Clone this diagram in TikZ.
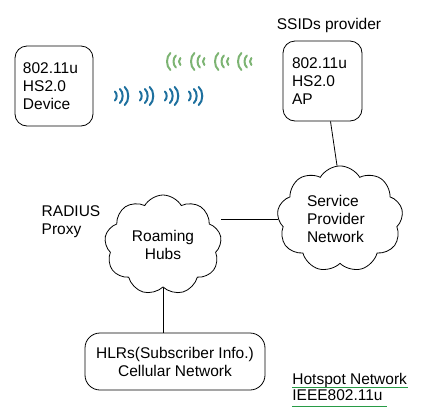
\documentclass[tikz,border=0pt]{standalone}
\usepackage{fontspec}
\setmainfont{Liberation Sans}
\usetikzlibrary{shapes.symbols}
\definecolor{wavegreen}{RGB}{125,180,115}
\definecolor{waveblue}{RGB}{30,112,158}
\definecolor{ulgreen}{RGB}{40,155,70}

\begin{document}
\begin{tikzpicture}[x=1pt,y=-1pt, line width=0.8pt,
    font=\fontsize{15.5}{18}\selectfont,
    box/.style={draw, rounded corners=12pt, align=left, inner sep=0pt},
    net/.style={draw, cloud, cloud puffs=9, cloud puff arc=120, inner sep=0pt},
    sig/.style={line width=2pt, line cap=round}]
  \useasboundingbox (0,0) rectangle (431,416);

  % device and access point
  \node[box, minimum width=78pt, minimum height=80pt, text width=62pt] (dev) at (54,86) {802.11u\\HS2.0\\Device};
  \node[box, minimum width=79pt, minimum height=80pt, text width=61pt] (ap) at (322.5,81) {802.11u\\HS2.0\\AP};
  \node (ssid) at (329,25) {SSIDs provider};

  % radio waves
  \foreach \gx in {167,191,215,238}
    \foreach \dx/\h in {0/8.5,6.5/6,12/3.5}
      \draw[sig, wavegreen] (\gx+\dx+0.4*\h,61.5-\h) .. controls (\gx+\dx-0.13*\h,61.5-0.55*\h) and (\gx+\dx-0.13*\h,61.5+0.55*\h) .. (\gx+\dx+0.4*\h,61.5+\h);
  \foreach \gx in {113,138,163,187}
    \foreach \dx/\h in {3.7/4.5,9.7/7,15.3/9}
      \draw[sig, waveblue] (\gx+\dx-0.4*\h,96-\h) .. controls (\gx+\dx+0.13*\h,96-0.55*\h) and (\gx+\dx+0.13*\h,96+0.55*\h) .. (\gx+\dx-0.4*\h,96+\h);

  % networks
  \node[net, minimum width=126pt, minimum height=88pt, align=left, text width=66pt] (spn) at (340,219) {Service\\Provider\\Network};
  \node[net, minimum width=117pt, minimum height=100pt, align=center] (hub) at (163,245) {Roaming\\Hubs};
  \node[align=left, anchor=west] (radius) at (38,222) {RADIUS\\Proxy};
  \node[box, rounded corners=15pt, align=center, minimum width=180pt, minimum height=57pt] (hlr) at (175,361.5) {HLRs(Subscriber Info.)\\Cellular Network};

  \draw ([xshift=8pt]ap.south) -- ([xshift=-3pt]spn.north);
  \draw (spn.west) -- (spn.west -| hub.east);
  \draw (hub.south) -- (hub.south |- hlr.north);

  % legend
  \node[inner sep=0pt, anchor=base west] (hsnet) at (292,384) {Hotspot Network};
  \node[inner sep=0pt, anchor=base west] (ieee) at (292,400) {IEEE802.11u};
  \draw[ulgreen, line width=1.6pt] (hsnet.base west) ++(0,3.5) -- ++(116,0);
  \draw[ulgreen, line width=1.6pt] (ieee.base west) ++(0,6.5) -- ++(95,0);
\end{tikzpicture}
\end{document}
